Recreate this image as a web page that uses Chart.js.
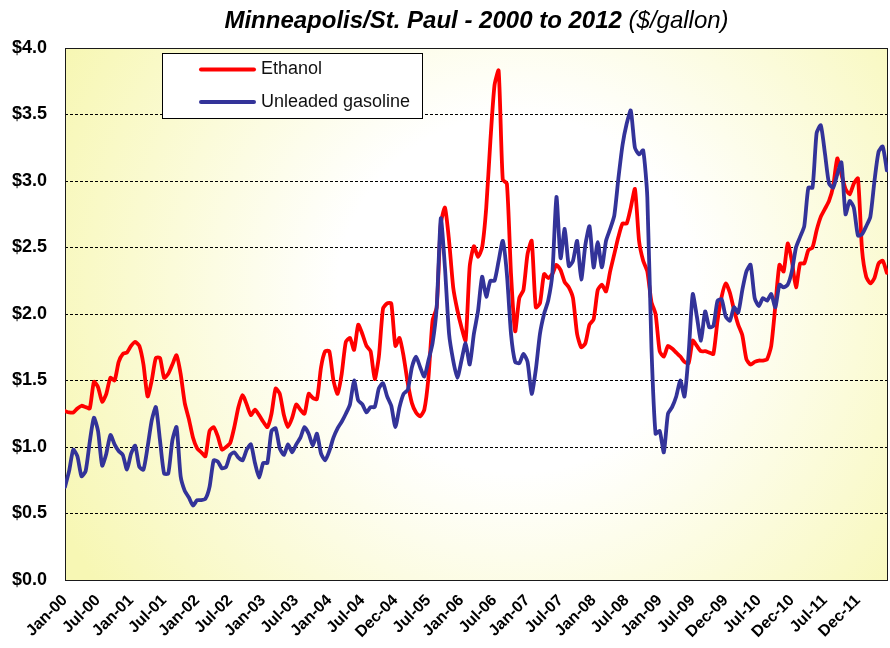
<!DOCTYPE html>
<html>
<head>
<meta charset="utf-8">
<script src="https://cdn.jsdelivr.net/npm/chart.js@4.4.1/dist/chart.umd.min.js"></script>
<style>
  html, body { margin: 0; padding: 0; background: #ffffff; }
  #wrap { width: 890px; height: 648px; position: relative; }
</style>
</head>
<body>
<div id="wrap"><canvas id="c" width="890" height="648"></canvas></div>
<script>
// ---- data ----
const tickLabels = ['Jan-00','Jul-00','Jan-01','Jul-01','Jan-02','Jul-02','Jan-03','Jul-03','Jan-04','Jul-04',
  'Dec-04','Jul-05','Jan-06','Jul-06','Jan-07','Jul-07','Jan-08','Jul-08','Jan-09','Jul-09','Dec-09','Jul-10',
  'Dec-10','Jul-11','Dec-11'];
const pointsPerTick = 8; // samples between consecutive tick labels

const seriesNames = ['Ethanol', 'Unleaded gasoline'];
const titleMain = 'Minneapolis/St. Paul - 2000 to 2012';
const titleUnit = '($/gallon)';

const ethanol = [
  1.27,1.26,1.26,1.29,1.31,1.30,1.29,1.49,1.45,1.34,
  1.40,1.52,1.50,1.64,1.70,1.71,1.76,1.79,1.76,1.62,
  1.38,1.50,1.67,1.67,1.52,1.55,1.62,1.69,1.55,1.33,
  1.21,1.07,0.99,0.96,0.93,1.12,1.15,1.08,0.98,1.00,
  1.03,1.15,1.30,1.39,1.32,1.24,1.28,1.24,1.19,1.15,
  1.25,1.44,1.40,1.24,1.15,1.22,1.32,1.28,1.25,1.40,
  1.37,1.36,1.60,1.72,1.72,1.50,1.40,1.55,1.79,1.82,
  1.73,1.92,1.85,1.76,1.72,1.51,1.68,2.04,2.08,2.08,
  1.76,1.82,1.68,1.48,1.33,1.26,1.23,1.28,1.52,1.95,
  2.05,2.68,2.80,2.55,2.20,2.03,1.90,1.80,2.36,2.51,
  2.43,2.50,2.80,3.30,3.72,3.83,3.01,2.98,2.30,1.87,
  2.12,2.18,2.45,2.55,2.05,2.08,2.30,2.27,2.30,2.37,
  2.33,2.24,2.20,2.12,1.85,1.75,1.78,1.92,1.96,2.18,
  2.22,2.17,2.32,2.45,2.58,2.68,2.68,2.80,2.94,2.55,
  2.40,2.32,2.09,2.00,1.72,1.68,1.76,1.74,1.71,1.68,
  1.64,1.63,1.80,1.76,1.72,1.72,1.71,1.70,1.95,2.13,
  2.23,2.16,2.03,1.92,1.84,1.66,1.62,1.64,1.65,1.65,
  1.66,1.76,2.06,2.37,2.32,2.53,2.40,2.20,2.38,2.38,
  2.48,2.50,2.63,2.73,2.79,2.85,2.96,3.17,3.05,2.94,
  2.90,2.98,3.02,2.48,2.28,2.23,2.27,2.38,2.40,2.31
];

const gasoline = [
  0.70,0.82,0.98,0.93,0.78,0.82,1.04,1.22,1.12,0.86,
  0.95,1.09,1.02,0.97,0.94,0.83,0.95,1.01,0.85,0.83,
  1.00,1.20,1.30,1.05,0.80,0.80,1.05,1.15,0.78,0.67,
  0.62,0.56,0.60,0.60,0.61,0.70,0.90,0.89,0.84,0.85,
  0.94,0.96,0.92,0.90,0.98,1.02,0.88,0.77,0.88,0.88,
  1.12,1.14,0.99,0.94,1.02,0.96,1.02,1.07,1.15,1.10,
  1.01,1.10,0.95,0.90,0.97,1.07,1.14,1.19,1.25,1.32,
  1.50,1.35,1.32,1.26,1.30,1.30,1.44,1.48,1.38,1.31,
  1.15,1.30,1.40,1.43,1.60,1.68,1.60,1.53,1.65,1.78,
  2.05,2.72,2.35,1.85,1.65,1.52,1.65,1.78,1.62,1.85,
  2.02,2.28,2.13,2.25,2.25,2.40,2.55,2.30,1.85,1.64,
  1.63,1.70,1.64,1.40,1.58,1.85,2.00,2.10,2.30,2.88,
  2.42,2.64,2.36,2.40,2.55,2.26,2.52,2.66,2.35,2.54,
  2.35,2.55,2.64,2.74,3.02,3.27,3.43,3.53,3.25,3.20,
  3.23,2.88,1.75,1.10,1.12,0.96,1.25,1.30,1.38,1.50,
  1.38,1.70,2.15,1.98,1.80,2.02,1.90,1.91,2.10,2.11,
  1.98,1.95,2.05,2.01,2.18,2.32,2.37,2.12,2.06,2.12,
  2.10,2.15,2.05,2.22,2.20,2.22,2.32,2.50,2.58,2.66,
  2.95,2.95,3.36,3.42,3.21,2.98,2.95,3.05,3.14,2.75,
  2.85,2.80,2.59,2.60,2.66,2.73,3.00,3.22,3.26,3.08
];

const xMax = 24.91; // extent of the category run beyond the last label (in label intervals)
const FONT = '"Liberation Sans", Arial, Helvetica, sans-serif';

function toPoints(arr) {
  return arr.map((v, i) => ({ x: i / pointsPerTick, y: v }));
}

const decorPlugin = {
  id: 'decor',
  beforeDraw(chart) {
    const { ctx, chartArea: a } = chart;
    ctx.save();
    ctx.fillStyle = '#ffffff';
    ctx.fillRect(0, 0, chart.width, chart.height);
    const cx = (a.left + a.right) / 2 + 40, cy = (a.top + a.bottom) / 2 - 20;
    const r = Math.hypot(a.right - a.left, a.bottom - a.top) / 2 + 20;
    const g = ctx.createRadialGradient(cx, cy, 0, cx, cy, r);
    g.addColorStop(0, '#ffffff');
    g.addColorStop(0.35, '#ffffff');
    g.addColorStop(1, '#f7f7b4');
    ctx.fillStyle = g;
    ctx.fillRect(a.left, a.top, a.right - a.left, a.bottom - a.top);
    ctx.restore();
  },
  beforeDatasetsDraw(chart) {
    const { ctx, chartArea: a } = chart;
    ctx.save();
    ctx.strokeStyle = '#1a1a1a';
    ctx.lineWidth = 1;
    ctx.strokeRect(Math.round(a.left) + 0.5, Math.round(a.top) + 0.5,
                   Math.round(a.right - a.left) - 1, Math.round(a.bottom - a.top));
    ctx.restore();
  },
  afterDraw(chart) {
    const { ctx, chartArea: a } = chart;
    ctx.save();
    // title
    const fMain = 'italic bold 24px ' + FONT;
    const fUnit = 'italic 24px ' + FONT;
    ctx.font = fMain;
    const w1 = ctx.measureText(titleMain + ' ').width;
    ctx.font = fUnit;
    const w2 = ctx.measureText(titleUnit).width;
    let x0 = (a.left + a.right) / 2 - (w1 + w2) / 2;
    ctx.fillStyle = '#000';
    ctx.textBaseline = 'alphabetic';
    ctx.textAlign = 'left';
    ctx.font = fMain;
    ctx.fillText(titleMain + ' ', x0, 28);
    ctx.font = fUnit;
    ctx.fillText(titleUnit, x0 + w1, 28);

    // legend box
    const lx = 162.5, ly = 53.5, lw = 260, lh = 65;
    ctx.fillStyle = '#ffffff';
    ctx.fillRect(lx, ly, lw, lh);
    ctx.strokeStyle = '#000';
    ctx.lineWidth = 1;
    ctx.strokeRect(lx, ly, lw, lh);
    const items = [
      { name: seriesNames[0], color: chart.data.datasets[0].borderColor, y: 69.5 },
      { name: seriesNames[1], color: chart.data.datasets[1].borderColor, y: 102 }
    ];
    ctx.font = '18px ' + FONT;
    ctx.textBaseline = 'middle';
    items.forEach(it => {
      ctx.strokeStyle = it.color;
      ctx.lineWidth = 4;
      ctx.lineCap = 'round';
      ctx.beginPath();
      ctx.moveTo(201, it.y);
      ctx.lineTo(254, it.y);
      ctx.stroke();
      ctx.fillStyle = '#111';
      ctx.fillText(it.name, 261, it.y);
    });
    ctx.restore();
  }
};

new Chart(document.getElementById('c'), {
  type: 'line',
  data: {
    datasets: [
      {
        label: seriesNames[0],
        data: toPoints(ethanol),
        borderColor: '#ff0000',
        backgroundColor: '#ff0000',
        borderWidth: 3.8,
        pointRadius: 0,
        tension: 0.2,
        order: 1
      },
      {
        label: seriesNames[1],
        data: toPoints(gasoline),
        borderColor: '#333399',
        backgroundColor: '#333399',
        borderWidth: 3.8,
        pointRadius: 0,
        tension: 0.2,
        order: 0
      }
    ]
  },
  options: {
    responsive: false,
    animation: false,
    devicePixelRatio: 1,
    layout: { padding: { top: 48, right: 2, left: 0, bottom: 0 } },
    plugins: {
      legend: { display: false },
      title: { display: false },
      tooltip: { enabled: false }
    },
    elements: { line: { borderJoinStyle: 'round', borderCapStyle: 'round' } },
    scales: {
      x: {
        type: 'linear',
        min: 0,
        max: xMax,
        afterBuildTicks(scale) {
          scale.ticks = tickLabels.map((_, i) => ({ value: i }));
        },
        afterFit(scale) { scale.height = 68; },
        grid: { display: false },
        border: { display: false },
        ticks: {
          autoSkip: false,
          minRotation: 45,
          maxRotation: 45,
          padding: 3,
          color: '#000',
          font: { family: FONT, size: 16, weight: 'bold' },
          callback: (v) => tickLabels[v]
        }
      },
      y: {
        min: 0,
        max: 4,
        afterFit(scale) { scale.width = 65; },
        grid: { color: '#000', lineWidth: 1, drawTicks: false },
        border: { display: false, dash: [3, 2] },
        ticks: {
          stepSize: 0.5,
          padding: 18,
          color: '#000',
          font: { family: FONT, size: 18, weight: 'bold' },
          callback: (v) => '$' + Number(v).toFixed(1)
        }
      }
    }
  },
  plugins: [decorPlugin]
});
</script>
</body>
</html>
